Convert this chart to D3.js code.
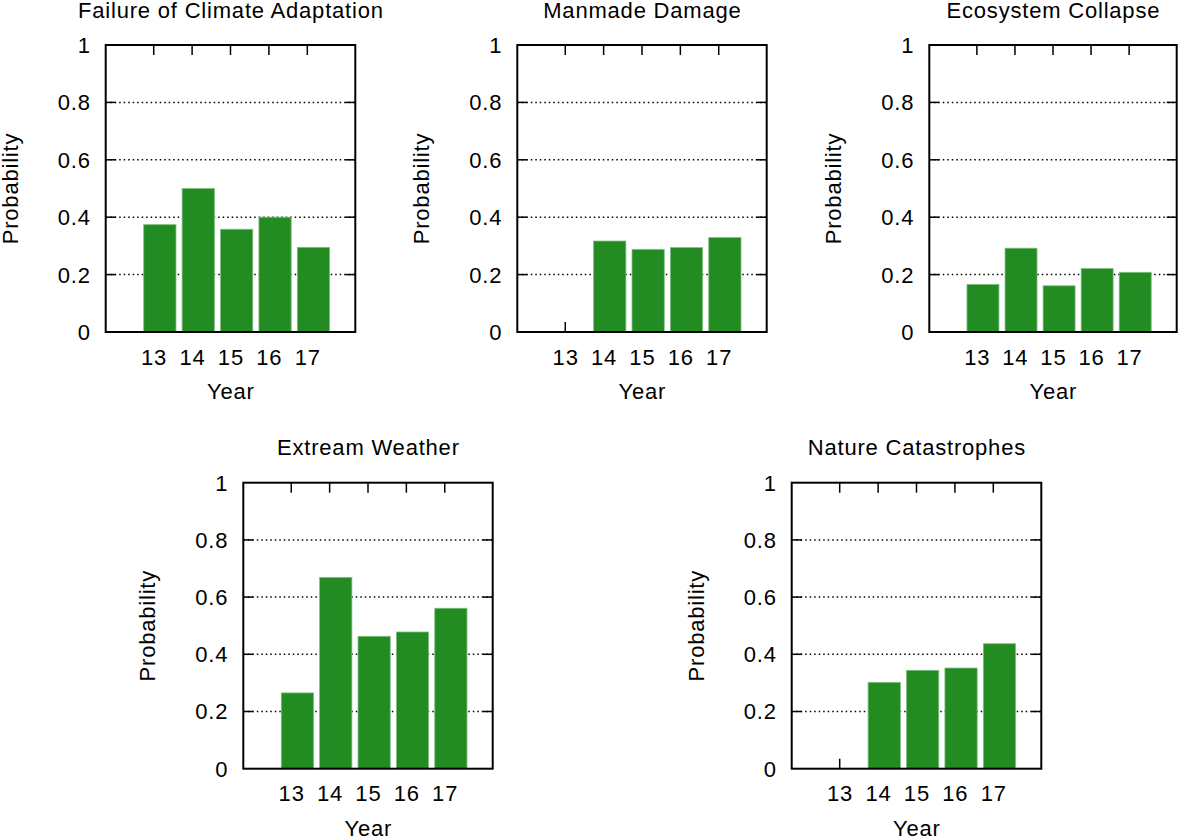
<!DOCTYPE html>
<html>
<head>
<meta charset="utf-8">
<script src="https://cdn.jsdelivr.net/npm/d3@7"></script>
<style>
  html, body { margin: 0; padding: 0; background: #fff; }
  svg { display: block; }
  text { font-family: "Liberation Sans", Arial, Helvetica, sans-serif; fill: #000; }
</style>
</head>
<body>
<svg id="chart" width="1179" height="838"></svg>
<script>
// ---- data ----
const years = [13, 14, 15, 16, 17];
const yTicks = [0, 0.2, 0.4, 0.6, 0.8, 1];
const titles = ["Failure of Climate Adaptation", "Manmade Damage", "Ecosystem Collapse", "Extream Weather", "Nature Catastrophes"];
const climateAdaptation = [0.374, 0.500, 0.358, 0.400, 0.295];
const manmadeDamage = [null, 0.317, 0.288, 0.294, 0.329];
const ecosystemCollapse = [0.166, 0.292, 0.161, 0.221, 0.208];
const extreamWeather = [0.265, 0.669, 0.463, 0.478, 0.561];
const natureCatastrophes = [null, 0.302, 0.344, 0.352, 0.437];
const seriesList = [climateAdaptation, manmadeDamage, ecosystemCollapse, extreamWeather, natureCatastrophes];

// ---- layout ----
const panels = [
  { x: 105.7, y: 45, w: 249.6, h: 287 },
  { x: 517.3, y: 45, w: 249.4, h: 287 },
  { x: 929.3, y: 45, w: 247.4, h: 287 },
  { x: 243.3, y: 482.7, w: 249.4, h: 286 },
  { x: 791.7, y: 482.7, w: 249.6, h: 286 }
];

const svg = d3.select("#chart");
const fontSize = 22;
const ls = 0.8;
const tickLen = 10;

panels.forEach((p, i) => {
  const g = svg.append("g").attr("transform", `translate(${p.x},${p.y})`);
  const x = d3.scaleLinear().domain([11.75, 18.25]).range([0, p.w]);
  const y = d3.scaleLinear().domain([0, 1]).range([p.h, 0]);
  const data = years.map((yr, k) => ({ yr, v: seriesList[i][k] }));

  // grid (dotted)
  g.selectAll(".grid").data(yTicks.filter(t => t > 0 && t < 1)).enter()
    .append("line")
    .attr("x1", 0).attr("x2", p.w)
    .attr("y1", d => y(d)).attr("y2", d => y(d))
    .attr("stroke", "#000").attr("stroke-width", 1.5)
    .attr("stroke-dasharray", "1.5,3");

  // y ticks both sides
  yTicks.filter(t => t > 0 && t < 1).forEach(t => {
    g.append("line").attr("x1", 0).attr("x2", tickLen).attr("y1", y(t)).attr("y2", y(t))
      .attr("stroke", "#000").attr("stroke-width", 1.5);
    g.append("line").attr("x1", p.w - tickLen).attr("x2", p.w).attr("y1", y(t)).attr("y2", y(t))
      .attr("stroke", "#000").attr("stroke-width", 1.5);
  });

  // x ticks bottom and top
  years.forEach(yr => {
    g.append("line").attr("x1", x(yr)).attr("x2", x(yr)).attr("y1", p.h).attr("y2", p.h - tickLen)
      .attr("stroke", "#000").attr("stroke-width", 1.5);
    g.append("line").attr("x1", x(yr)).attr("x2", x(yr)).attr("y1", 0).attr("y2", tickLen)
      .attr("stroke", "#000").attr("stroke-width", 1.5);
  });

  // bars
  g.selectAll(".bar").data(data.filter(d => d.v !== null)).enter()
    .append("rect")
    .attr("x", d => x(d.yr - 0.26))
    .attr("width", d => x(d.yr + 0.58) - x(d.yr - 0.26))
    .attr("y", d => y(d.v))
    .attr("height", d => y(0) - y(d.v))
    .attr("fill", "#228b22")
    .attr("stroke", "#7fbf7f").attr("stroke-width", 0.8);

  // frame
  g.append("rect").attr("x", 0).attr("y", 0).attr("width", p.w).attr("height", p.h)
    .attr("fill", "none").attr("stroke", "#000").attr("stroke-width", 2);

  // y tick labels
  g.selectAll(".ylab").data(yTicks).enter().append("text")
    .attr("x", -15).attr("y", d => y(d)).attr("dy", "0.36em")
    .attr("text-anchor", "end")
    .style("font-size", fontSize + "px").style("letter-spacing", ls + "px")
    .text(d => d3.format("~g")(d));

  // x tick labels
  g.selectAll(".xlab").data(years).enter().append("text")
    .attr("x", d => x(d) + ls / 2).attr("y", p.h + 32.5)
    .attr("text-anchor", "middle")
    .style("font-size", fontSize + "px").style("letter-spacing", ls + "px")
    .text(d => d);

  // x axis label
  g.append("text").attr("x", p.w / 2 + ls / 2).attr("y", p.h + 67)
    .attr("text-anchor", "middle")
    .style("font-size", fontSize + "px").style("letter-spacing", ls + "px")
    .text("Year");

  // y axis label
  g.append("text")
    .attr("transform", `translate(-88,${p.h / 2}) rotate(-90)`)
    .attr("text-anchor", "middle")
    .style("font-size", fontSize + "px").style("letter-spacing", ls + "px")
    .text("Probability");

  // title
  g.append("text").attr("x", p.w / 2 + ls / 2).attr("y", -27.5)
    .attr("text-anchor", "middle")
    .style("font-size", fontSize + "px").style("letter-spacing", ls + "px")
    .text(titles[i]);
});
</script>
</body>
</html>
